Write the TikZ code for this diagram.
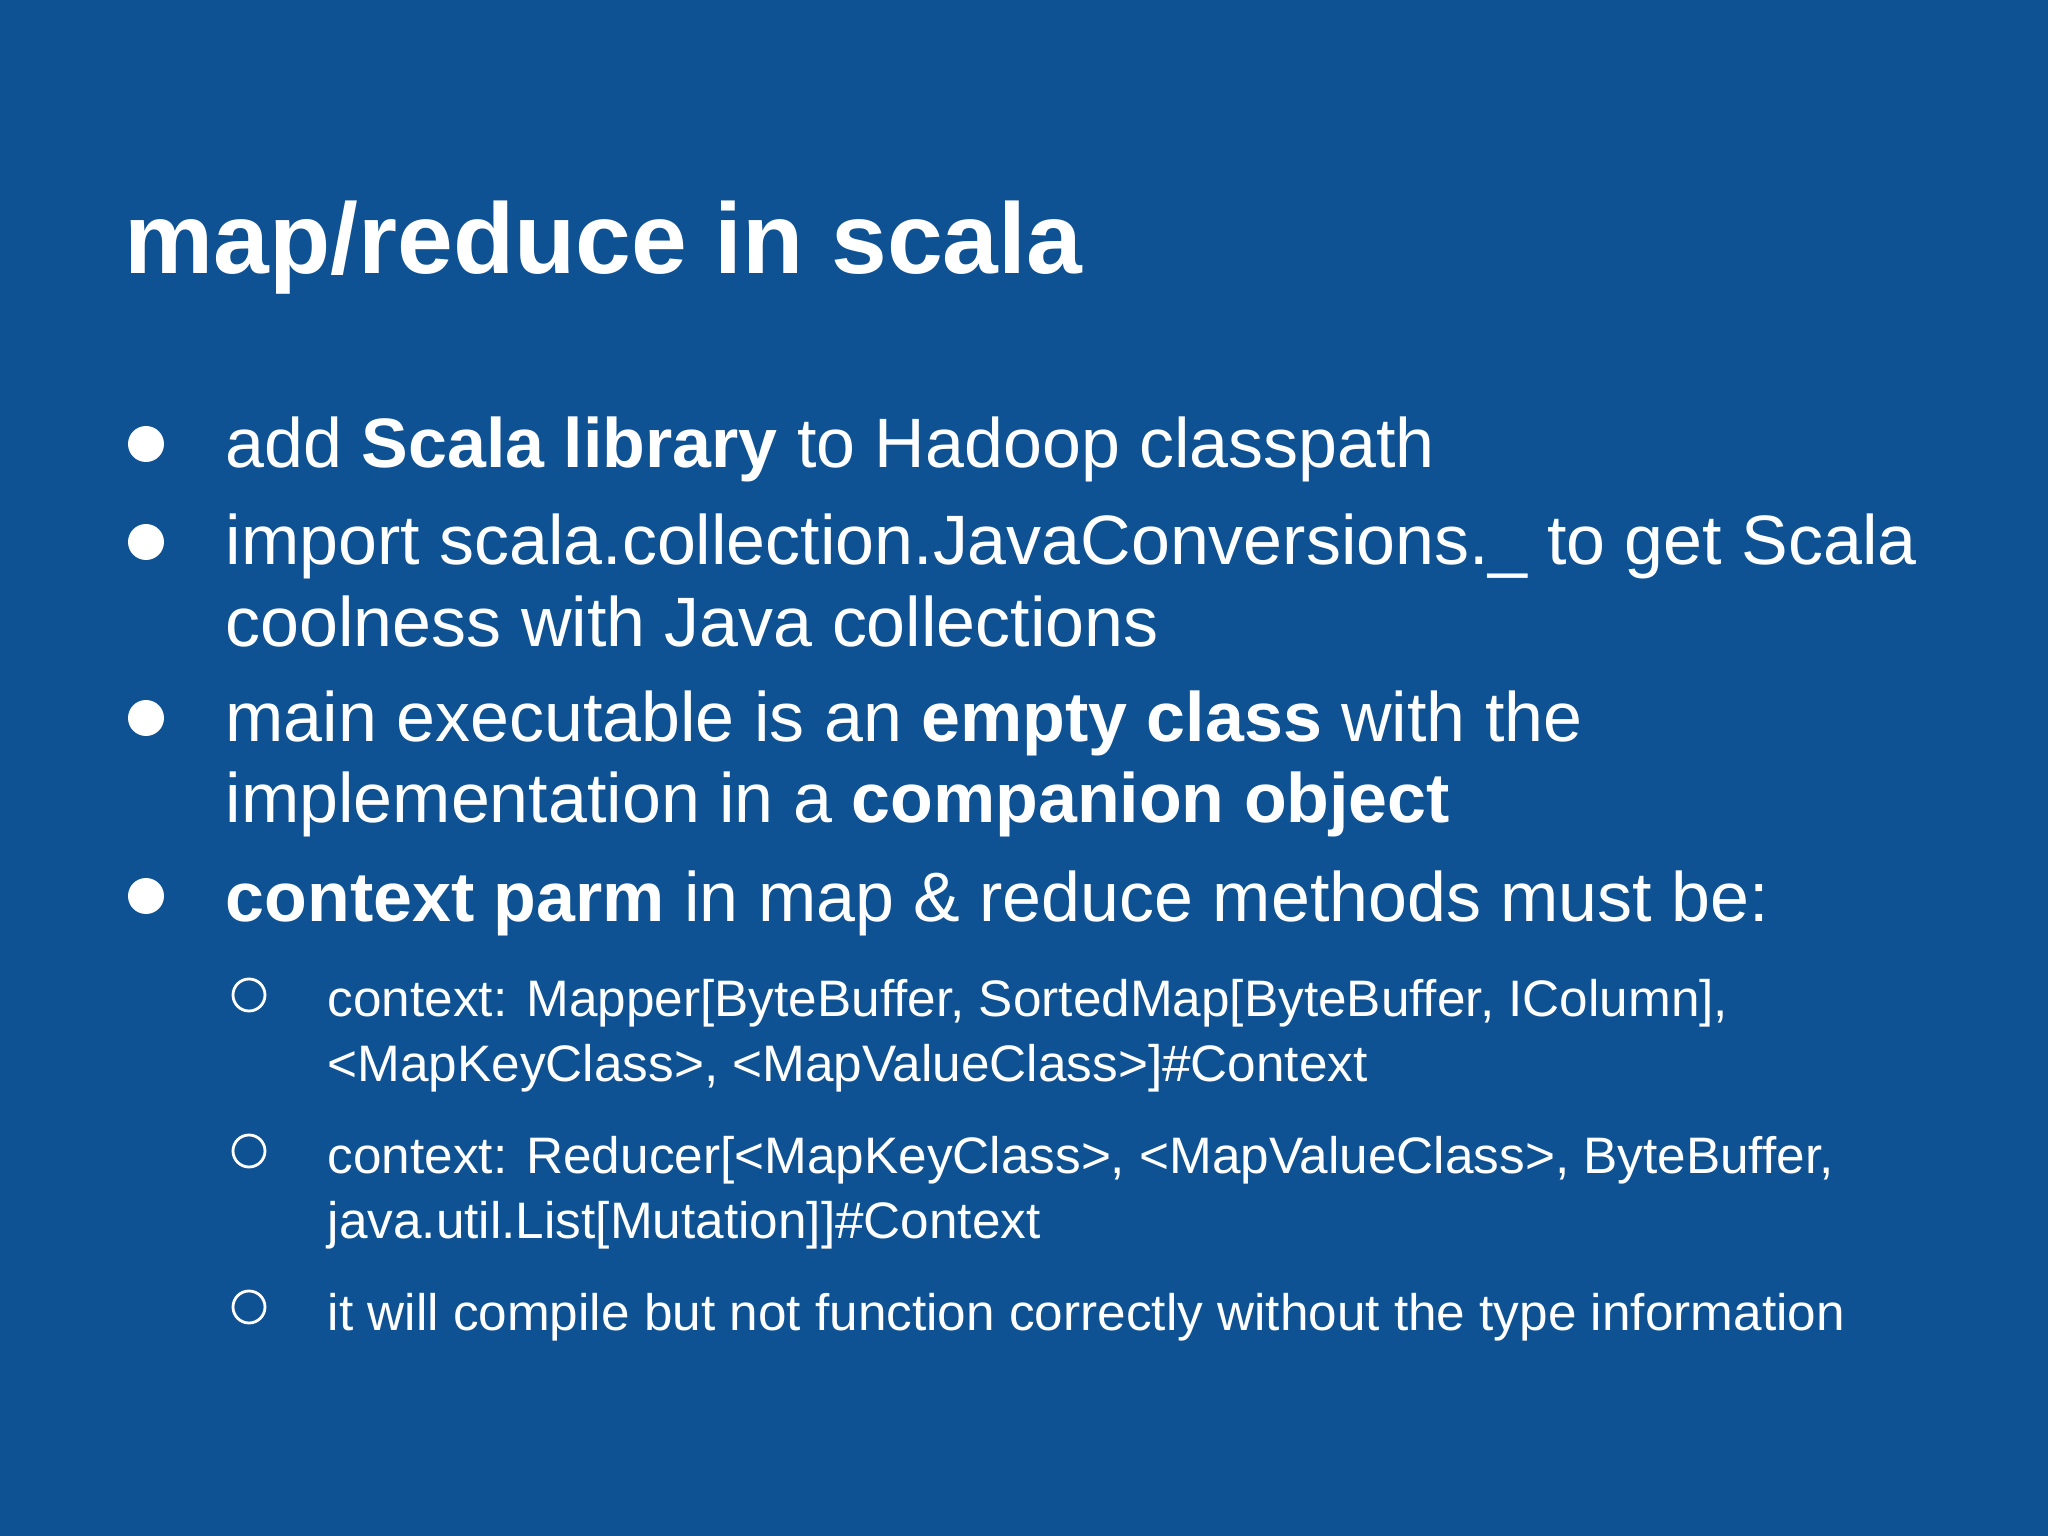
\documentclass[tikz,border=0pt]{standalone}
\usepackage{fontspec}
\setmainfont{Liberation Sans}
\definecolor{bg}{HTML}{0E5294}
\begin{document}
\begin{tikzpicture}[y=-1cm,
  ttl/.style={anchor=base west,inner sep=0pt,text=white,font=\fontsize{28.5}{30}\selectfont\bfseries},
  lvl/.style={anchor=base west,inner sep=0pt,text=white,font=\fontsize{19.9}{22}\selectfont},
  sub/.style={anchor=base west,inner sep=0pt,text=white,font=\fontsize{14.6}{16}\selectfont},
  dot/.style={circle,fill=white,minimum size=0.36cm,inner sep=0pt},
  ring/.style={circle,draw=white,line width=0.8pt,minimum size=0.32cm,inner sep=0pt}]
\fill[bg] (0,0) rectangle (20.48,15.36);
\useasboundingbox (0,0) rectangle (20.48,15.36);
\node[ttl] (t) at (1.24,2.74) {map/reduce in scala};
\node[dot] (d1) at (1.46,4.44) {};
\node[dot] (d2) at (1.46,5.42) {};
\node[dot] (d3) at (1.46,7.18) {};
\node[dot] (d4) at (1.46,8.96) {};
\node[lvl] (l1) at (2.25,4.68) {add \textbf{Scala library} to Hadoop classpath};
\node[lvl] (l2) at (2.25,5.65) {import scala.collection.JavaConversions.\_ to get Scala};
\node[lvl] (l3) at (2.25,6.46) {coolness with Java collections};
\node[lvl] (l4) at (2.25,7.42) {main executable is an \textbf{empty class} with the};
\node[lvl] (l5) at (2.25,8.23) {implementation in a \textbf{companion object}};
\node[lvl] (l6) at (2.25,9.21) {\textbf{context parm} in map \& reduce methods must be:};
\node[ring] (r1) at (2.49,9.95) {};
\node[ring] (r2) at (2.49,11.51) {};
\node[ring] (r3) at (2.49,13.07) {};
\node[sub] (s1) at (3.27,10.16) {context: Mapper[ByteBuffer, SortedMap[ByteBuffer, IColumn],};
\node[sub] (s2) at (3.27,10.81) {<MapKeyClass>, <MapValueClass>]\#Context};
\node[sub] (s3) at (3.27,11.73) {context: Reducer[<MapKeyClass>, <MapValueClass>, ByteBuffer,};
\node[sub] (s4) at (3.27,12.38) {java.util.List[Mutation]]\#Context};
\node[sub] (s5) at (3.27,13.30) {it will compile but not function correctly without the type information};
\end{tikzpicture}
\end{document}
